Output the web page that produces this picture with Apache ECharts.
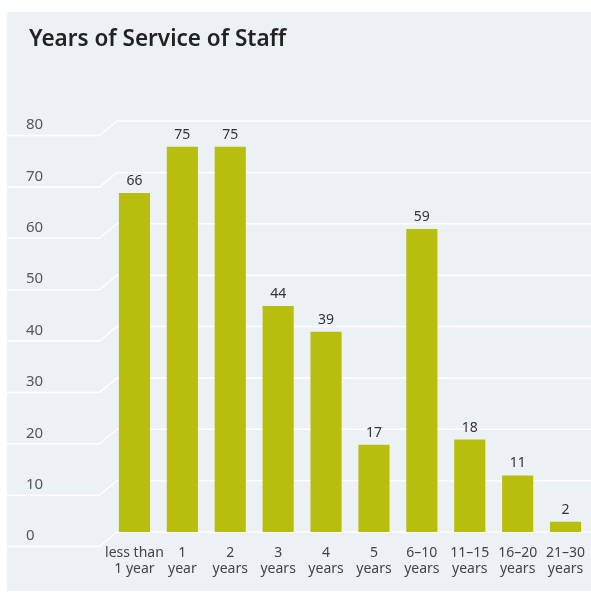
<!DOCTYPE html>
<html>
<head>
<meta charset="utf-8">
<script src="https://cdn.jsdelivr.net/npm/echarts@6/dist/echarts.min.js"></script>
<style>
  html, body { margin: 0; padding: 0; background: #ffffff; }
  #chart { width: 591px; height: 594px; }
</style>
</head>
<body>
<div id="chart"></div>
<script>
// Staff counts by length of service
const categories = ['less than\n1 year', '1\nyear', '2\nyears', '3\nyears', '4\nyears', '5\nyears', '6–10\nyears', '11–15\nyears', '16–20\nyears', '21–30\nyears'];
const staffCounts = [66, 75, 75, 44, 39, 17, 59, 18, 11, 2];
const yTicks = [0, 10, 20, 30, 40, 50, 60, 70, 80];

const PANEL = { x: 7, y: 12, w: 584, h: 579 };
const FONT = '"Noto Sans", "Open Sans", sans-serif';

const chart = echarts.init(document.getElementById('chart'), null, { renderer: 'canvas' });

const option = {
  backgroundColor: '#ffffff',
  animation: false,
  title: {
    text: 'Years of Service of Staff',
    left: 24, top: 23,
    textStyle: { fontFamily: FONT, fontWeight: 600, fontSize: 22.5, color: '#222222' }
  },
  grid: { left: 110.5, right: 1.5, top: 121, bottom: 62 },
  xAxis: {
    type: 'category',
    data: categories,
    axisLine: { show: false },
    axisTick: { show: false },
    axisLabel: {
      interval: 0, margin: 13,
      fontFamily: FONT, fontSize: 14, lineHeight: 16, color: '#444444'
    }
  },
  yAxis: {
    type: 'value',
    min: yTicks[0], max: yTicks[yTicks.length - 1], interval: 10,
    splitLine: { show: false },
    axisLine: { show: false },
    axisTick: { show: false },
    axisLabel: {
      align: 'left', margin: 84.5,
      verticalAlign: 'top', lineHeight: 8,
      fontFamily: FONT, fontSize: 15, color: '#555555'
    }
  },
  series: [{
    type: 'bar',
    data: staffCounts,
    barCategoryGap: '35%',
    itemStyle: { color: '#b8be0e' },
    label: {
      show: true, position: 'top', distance: 5,
      fontFamily: FONT, fontSize: 14, color: '#333333'
    },
    z: 3
  }]
};

chart.setOption(option);

// Background panel and the stepped white gridlines, placed from the value axis.
function drawDecor() {
  const els = [{
    type: 'rect', z: -10, silent: true,
    shape: { x: PANEL.x, y: PANEL.y, width: PANEL.w, height: PANEL.h },
    style: { fill: '#ecf1f6' }
  }];
  const rightEdge = PANEL.x + PANEL.w;
  yTicks.forEach(function (v) {
    const y = chart.convertToPixel({ yAxisIndex: 0 }, v);
    els.push({
      type: 'polyline', z: -5, silent: true,
      shape: { points: [[PANEL.x, y + 14.5], [99.5, y + 14.5], [117, y], [rightEdge, y]] },
      style: { stroke: '#ffffff', lineWidth: 1.5, fill: null }
    });
  });
  chart.setOption({ graphic: { elements: els } });
}
drawDecor();
</script>
</body>
</html>
